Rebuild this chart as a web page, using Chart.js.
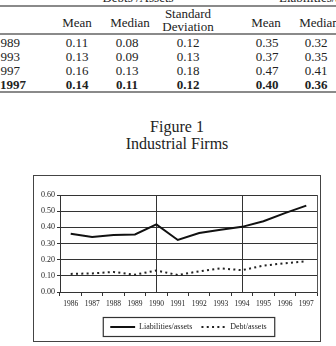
<!DOCTYPE html>
<html>
<head>
<meta charset="utf-8">
<script src="https://cdn.jsdelivr.net/npm/chart.js@4.4.1/dist/chart.umd.min.js"></script>
<style>
body{margin:0;background:#fff;width:336px;height:346px;overflow:hidden;position:relative;font-family:"Liberation Serif",serif;color:#222;}
.t{position:absolute;font-size:13px;line-height:13px;white-space:nowrap;transform:translateX(-50%);}
.r{position:absolute;font-size:13px;line-height:13px;white-space:nowrap;transform:translateX(-100%);}
.rule{position:absolute;left:0;width:336px;height:1.5px;background:#8a8a8a;}
.title{position:absolute;left:177px;transform:translateX(-50%);font-size:16px;line-height:16px;white-space:nowrap;}
#box{position:absolute;left:33px;top:175px;width:288px;height:167px;box-sizing:border-box;border:1.5px solid #444;}
#chart{position:absolute;left:34px;top:176px;}
</style>
</head>
<body>
<div id="table"></div>
<div class="title" style="top:119px">Figure 1</div>
<div class="title" style="top:136px">Industrial Firms</div>
<div id="box"></div>
<canvas id="chart" width="286" height="165"></canvas>
<script>
// table on top of the page
var row_labels = ["1989", "1993", "1997", "1997"];
var debt_mean = ["0.11", "0.13", "0.16", "0.14"];
var debt_median = ["0.08", "0.09", "0.13", "0.11"];
var debt_sd = ["0.12", "0.13", "0.18", "0.12"];
var liab_mean = ["0.35", "0.37", "0.47", "0.40"];
var liab_median = ["0.32", "0.35", "0.41", "0.36"];

// chart data
var years = ["1986", "1987", "1988", "1989", "1990", "1991", "1992", "1993", "1994", "1995", "1996", "1997"];
var liabilities = [0.360, 0.341, 0.353, 0.356, 0.418, 0.322, 0.365, 0.385, 0.403, 0.438, 0.488, 0.534];
var debt = [0.112, 0.115, 0.124, 0.107, 0.133, 0.105, 0.128, 0.146, 0.135, 0.163, 0.178, 0.190];
var y_ticks = [0, 0.1, 0.2, 0.3, 0.4, 0.5, 0.6];
var marked_years = ["1990", "1994"];

build_table();

function add_text(cls, txt, x, y, bold){
    var d = document.createElement("div");
    d.className = cls;
    d.textContent = txt;
    d.style.left = x + "px";
    d.style.top = y + "px";
    if(bold){
        d.style.fontWeight = "bold";
    }
    document.getElementById("table").appendChild(d);
    return d;
}

function build_table(){
    add_text("t", "Debts /Assets", 138, -9);
    var liab = add_text("t", "Liabilities/assets", 279, -9);
    liab.style.transform = "none";

    var rules = [5, 33, 91];
    for(var i = 0; i < rules.length; i++){
        var r = document.createElement("div");
        r.className = "rule";
        r.style.top = rules[i] + "px";
        document.getElementById("table").appendChild(r);
    }

    add_text("t", "Mean", 77, 16);
    add_text("t", "Median", 130, 16);
    add_text("t", "Standard", 188, 7);
    add_text("t", "Deviation", 188, 20);
    add_text("t", "Mean", 266, 16);
    add_text("t", "Median", 319, 16);

    var cols = [debt_mean, debt_median, debt_sd, liab_mean, liab_median];
    var xs = [77, 127, 188, 267, 316];
    var ys = [36, 50, 64, 78];
    for(var j = 0; j < row_labels.length; j++){
        var bold = (j == row_labels.length - 1);
        add_text("r", row_labels[j], bold ? 26 : 20, ys[j], bold);
        for(var c = 0; c < cols.length; c++){
            add_text("t", cols[c][j], xs[c], ys[j], bold);
        }
    }
}

//Border around the legend
var legend_box = {
    id: "legend_box",
    afterDraw: function(chart){
        var boxes = chart.legend.legendHitBoxes;
        if(!boxes || !boxes.length) return;
        var l = Infinity, r = -Infinity, t = Infinity, b = -Infinity;
        boxes.forEach(function(h){
            l = Math.min(l, h.left);
            r = Math.max(r, h.left + h.width);
            t = Math.min(t, h.top);
            b = Math.max(b, h.top + h.height);
        });
        var ctx = chart.ctx;
        ctx.save();
        ctx.strokeStyle = "#333";
        ctx.lineWidth = 1.2;
        ctx.strokeRect(l - 7, t - 5.5, r - l + 15, b - t + 11);
        ctx.restore();
    }
};

Chart.defaults.font.family = "Liberation Serif";
Chart.defaults.color = "#222";

new Chart(document.getElementById("chart"), {
    type: "line",
    data: {
        labels: years,
        datasets: [{
            label: "Liabilities/assets",
            data: liabilities,
            borderColor: "#111",
            backgroundColor: "rgba(0,0,0,0)",
            borderWidth: 2,
            pointRadius: 0,
            tension: 0
        }, {
            label: "Debt/assets",
            data: debt,
            borderColor: "#222",
            backgroundColor: "rgba(0,0,0,0)",
            borderWidth: 2,
            borderDash: [2, 3.3],
            pointRadius: 0,
            tension: 0
        }]
    },
    plugins: [legend_box],
    options: {
        responsive: false,
        animation: false,
        layout: {padding: {top: 19, right: 3, left: 0, bottom: 0}},
        scales: {
            x: {
                offset: true,
                grid: {offset: true, drawOnChartArea: false, tickLength: 4, tickColor: "#333", lineWidth: 1},
                border: {color: "#333"},
                ticks: {font: {size: 7.5}, maxRotation: 0, autoSkip: false, padding: 4},
                afterFit: function(s){ s.height = 22; }
            },
            x2: {
                type: "category",
                labels: years,
                position: "top",
                offset: true,
                grid: {
                    offset: false,
                    drawTicks: false,
                    color: function(c){
                        return marked_years.indexOf(years[c.index]) >= 0 ? "#333" : "rgba(0,0,0,0)";
                    }
                },
                border: {display: false},
                ticks: {display: false},
                afterFit: function(s){ s.height = 0; }
            },
            y: {
                min: 0,
                max: 0.6,
                afterBuildTicks: function(s){
                    s.ticks = y_ticks.map(function(v){ return {value: v}; });
                },
                grid: {color: "#333", tickLength: 3, lineWidth: 1},
                border: {color: "#333"},
                ticks: {
                    font: {size: 8},
                    padding: 2,
                    callback: function(v){ return Number(v).toFixed(2); }
                },
                afterFit: function(s){ s.width = 26; }
            },
            y2: {
                position: "right",
                min: 0,
                max: 0.6,
                grid: {drawOnChartArea: false, drawTicks: false},
                border: {display: true, color: "#555"},
                ticks: {display: false},
                afterFit: function(s){ s.width = 0; }
            }
        },
        plugins: {
            legend: {
                position: "bottom",
                fullSize: false,
                labels: {
                    boxWidth: 24.85,
                    boxHeight: 0,
                    color: "#222",
                    padding: 9,
                    font: {size: 8}
                }
            },
            tooltip: {enabled: false}
        }
    }
});
</script>
</body>
</html>
